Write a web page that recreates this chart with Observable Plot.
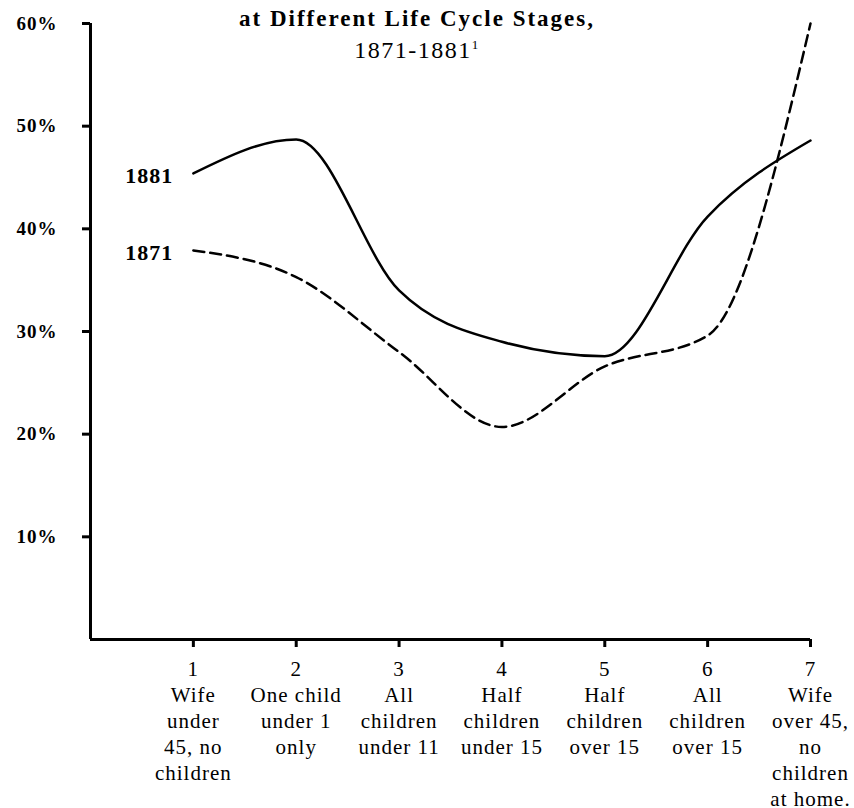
<!DOCTYPE html>
<html>
<head>
<meta charset="utf-8">
<script src="https://cdn.jsdelivr.net/npm/d3@7"></script>
<script src="https://cdn.jsdelivr.net/npm/@observablehq/plot@0.6"></script>
<style>
  html, body { margin: 0; padding: 0; background: #fff; }
  #wrap { position: relative; width: 854px; height: 808px; font-family: "Liberation Serif", serif; color: #000; overflow: hidden; }
  .t1 { position: absolute; left: 0; width: 834px; text-align: center; top: 6px; font-size: 23px; font-weight: bold; letter-spacing: 2px; }
  .t2 { position: absolute; left: 0; width: 834px; text-align: center; top: 37px; font-size: 24px; letter-spacing: 1.5px; }
  .t2 sup { font-size: 13px; }
</style>
</head>
<body>
<div id="wrap">
  <div class="t1">at Different Life Cycle Stages,</div>
  <div class="t2">1871-1881<sup>1</sup></div>
</div>
<script>
const stages = [1, 2, 3, 4, 5, 6, 7];
const stageLabels = [
  "Wife\nunder\n45, no\nchildren",
  "One child\nunder 1\nonly",
  "All\nchildren\nunder 11",
  "Half\nchildren\nunder 15",
  "Half\nchildren\nover 15",
  "All\nchildren\nover 15",
  "Wife\nover 45,\nno\nchildren\nat home."
];
const yTicks = [10, 20, 30, 40, 50, 60];
const v1881 = [45.4, 48.7, 34.0, 29.0, 27.6, 41.2, 48.6];
const v1871 = [37.9, 35.3, 28.0, 20.7, 26.6, 29.6, 60.0];
const years = ["1881", "1871"];

const rows = [];
stages.forEach((s, i) => rows.push({stage: s, value: v1881[i], year: years[0]}));
stages.forEach((s, i) => rows.push({stage: s, value: v1871[i], year: years[1]}));
const firsts = years.map(y => rows.find(r => r.year === y));

const chart = Plot.plot({
  width: 854,
  height: 808,
  marginTop: 23,
  marginBottom: 169,
  marginLeft: 90,
  marginRight: 44,
  style: {fontFamily: "Liberation Serif, serif", fontSize: "21px", color: "#000", background: "transparent", letterSpacing: "1px", overflow: "visible"},
  x: {domain: [0, 7], axis: null, label: null},
  y: {domain: [0, 60], axis: null, label: null},
  marks: [
    Plot.axisY({ticks: yTicks, tickFormat: d => d + "%", label: null, tickSize: 8, tickPadding: 25, strokeWidth: 3, fontWeight: "bold", fontSize: 19}),
    Plot.axisX({ticks: stages, tickFormat: (d, i) => d + "\n" + stageLabels[i], label: null, tickSize: 8, tickPadding: 10, strokeWidth: 3, fontSize: 21, lineHeight: 1.24}),
    Plot.ruleX([0], {strokeWidth: 3}),
    Plot.ruleY([0], {strokeWidth: 3}),
    Plot.line(rows.filter(r => r.year === "1881"), {x: "stage", y: "value", curve: "monotone-x", stroke: "#000", strokeWidth: 2.5}),
    Plot.line(rows.filter(r => r.year === "1871"), {x: "stage", y: "value", curve: "monotone-x", stroke: "#000", strokeWidth: 2.5, strokeDasharray: "11,6"}),
    Plot.text(firsts, {x: "stage", y: "value", text: "year", textAnchor: "end", dx: -20, dy: 3, fontWeight: "bold", fontSize: 22, fill: "#000"})
  ]
});
chart.style.position = "absolute";
chart.style.left = "0";
chart.style.top = "0";
document.getElementById("wrap").appendChild(chart);
</script>
</body>
</html>
